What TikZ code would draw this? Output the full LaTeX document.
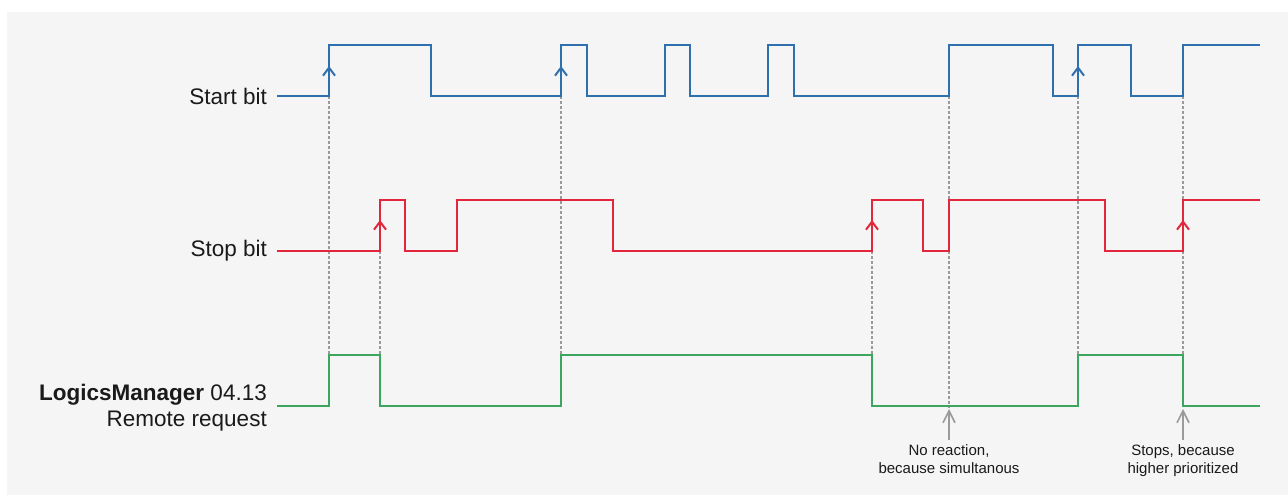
\documentclass[tikz,border=0pt]{standalone}
\usepackage{fontspec}
\setmainfont{Liberation Sans}
\usetikzlibrary{arrows.meta}
\definecolor{sigblue}{HTML}{2E6FAE}
\definecolor{sigred}{HTML}{E2263C}
\definecolor{siggreen}{HTML}{3DA65E}
\definecolor{panelgray}{HTML}{F5F5F5}
\definecolor{guidegray}{HTML}{9A9A9A}
\definecolor{txt}{HTML}{1A1A1A}
\begin{document}
\begin{tikzpicture}[x=1pt,y=-1pt,
  sig/.style={line width=2.2pt, line join=miter},
  guide/.style={draw=guidegray, line width=1.3pt, dash pattern=on 3pt off 2pt},
  edgearrow/.style={-{Straight Barb[length=8pt,width=12pt,line width=2pt]}},
  pointer/.style={draw=guidegray, line width=1.6pt, -{Straight Barb[length=12pt,width=12pt,line width=1.6pt]}},
  lbl/.style={text=txt, inner sep=0pt, font=\fontsize{22.5}{26}\selectfont},
  note/.style={text=txt, inner sep=0pt, align=center, font=\fontsize{15}{18}\selectfont}]
\useasboundingbox (0,0) rectangle (1288,495);
\fill[panelgray] (7,12) rectangle (1288,495);

% labels
\node[lbl, anchor=east] (start) at (267,96) {Start bit};
\node[lbl, anchor=east] (stop) at (267,251) {Stop bit};
\node[lbl, anchor=east, align=right] (lm) at (267,408) {\textbf{LogicsManager} 04.13\\Remote request};

% guide lines
\draw[guide] (329,96) -- (329,355);
\draw[guide] (380,251) -- (380,355);
\draw[guide] (561,96) -- (561,355);
\draw[guide] (872,251) -- (872,355);
\draw[guide] (949,96) -- (949,408);
\draw[guide] (1078,96) -- (1078,355);
\draw[guide] (1183,96) -- (1183,355);

% start bit
\draw[sig, sigblue] (start.east) ++(10,0) coordinate (s0) -| (329,45) -| (431,96) -| (561,45) -| (587,96) -| (665,45) -| (690,96) -| (768,45) -| (794,96) -| (949,45) -| (1053,96) -| (1078,45) -| (1131,96) -| (1183,45) -- (1260,45);
\draw[sig, sigblue, edgearrow] (329,84) -- (329,66);
\draw[sig, sigblue, edgearrow] (561,84) -- (561,66);
\draw[sig, sigblue, edgearrow] (1078,84) -- (1078,66);

% stop bit
\draw[sig, sigred] (stop.east) ++(10,0) coordinate (t0) -| (380,200) -| (405,251) -| (457,200) -| (613,251) -| (872,200) -| (923,251) -| (949,200) -| (1105,251) -| (1183,200) -- (1260,200);
\draw[sig, sigred, edgearrow] (380,238) -- (380,220);
\draw[sig, sigred, edgearrow] (872,238) -- (872,220);
\draw[sig, sigred, edgearrow] (1183,238) -- (1183,220);

% remote request
\draw[sig, siggreen] (277,406) coordinate (r0) -| (329,355) -| (380,406) -| (561,355) -| (872,406) -| (1078,355) -| (1183,406) -- (1260,406);

% notes
\node[note, anchor=north] (n1) at (949,444) {No reaction,\\because simultanous};
\node[note, anchor=north] (n2) at (1183,444) {Stops, because\\higher prioritized};
\coordinate (p1) at (949,409);
\coordinate (p2) at (1183,409);
\draw[pointer] (n1.north) ++(0,-4) -- (p1);
\draw[pointer] (n2.north) ++(0,-4) -- (p2);
\end{tikzpicture}
\end{document}
